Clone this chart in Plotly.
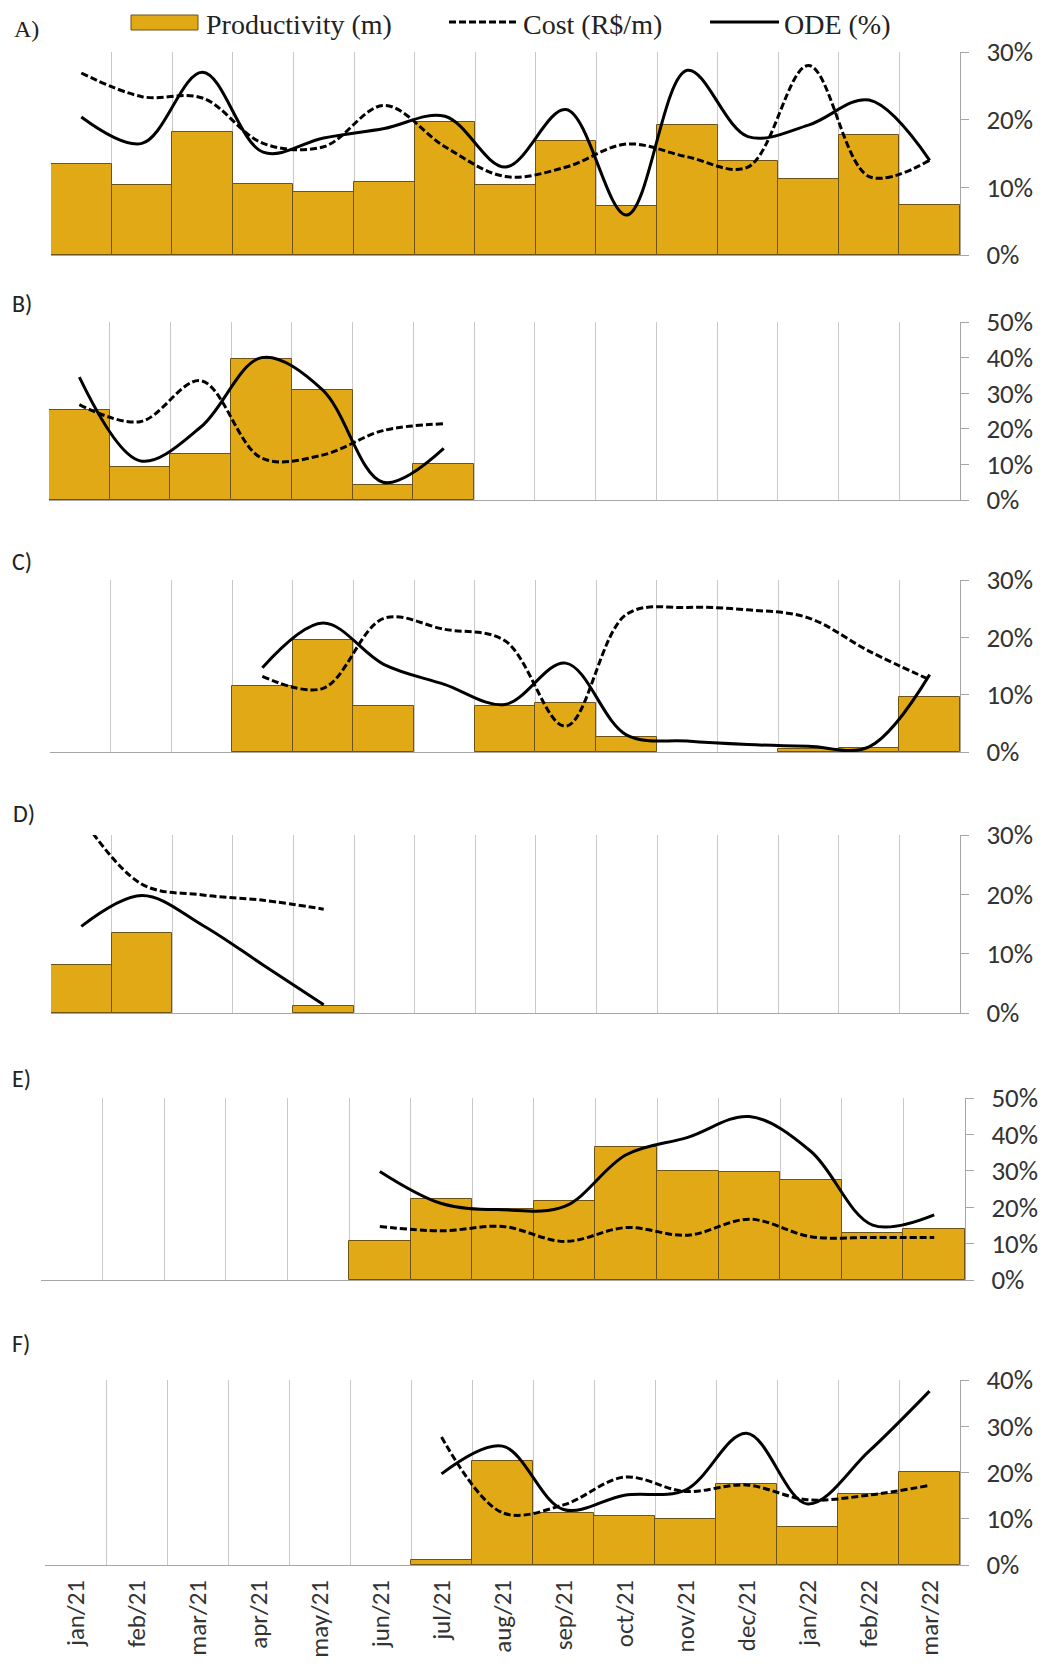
import plotly.graph_objects as go

# ---------------- data ----------------
months = ["jan/21", "feb/21", "mar/21", "apr/21", "may/21", "jun/21", "jul/21",
          "aug/21", "sep/21", "oct/21", "nov/21", "dec/21", "jan/22", "feb/22", "mar/22"]

N = None
prod_a = [13.4, 10.3, 18.2, 10.5, 9.3, 10.8, 19.7, 10.4, 16.9, 7.3, 19.2, 13.9, 11.3, 17.8, 7.4]
cost_a = [26.9, 23.4, 23.2, 16.5, 16.0, 22.1, 16.0, 11.6, 13.0, 16.4, 14.5, 13.0, 28.0, 11.6, 14.0]
ode_a = [20.4, 16.5, 27.0, 15.2, 17.3, 18.7, 20.5, 13.0, 21.5, 5.9, 27.3, 17.5, 19.2, 22.9, 14.0]

prod_b = [25.2, 9.2, 12.9, 39.6, 31.0, 4.2, 10.0, N, N, N, N, N, N, N, N]
cost_b = [26.8, 22.0, 33.5, 11.8, 12.6, 19.5, 21.4, N, N, N, N, N, N, N, N]
ode_b = [34.5, 11.0, 20.5, 40.0, 31.0, 5.0, 14.5, N, N, N, N, N, N, N, N]

prod_c = [N, N, N, 11.5, 19.6, 8.1, N, 8.0, 8.6, 2.6, N, N, 0.5, 0.7, 9.6]
cost_c = [N, N, N, 13.2, 11.1, 23.3, 21.4, 19.4, 4.5, 24.0, 25.2, 24.8, 23.4, 17.6, 12.6]
ode_c = [N, N, N, 14.7, 22.5, 15.3, 11.8, 8.3, 15.5, 3.0, 1.9, 1.3, 1.0, 0.9, 13.5]

prod_d = [8.1, 13.4, N, N, 1.1, N, N, N, N, N, N, N, N, N, N]
cost_d = [33.0, 21.7, 19.9, 19.0, 17.5, N, N, N, N, N, N, N, N, N, N]
ode_d = [14.6, 19.8, 14.8, 8.1, 1.4, N, N, N, N, N, N, N, N, N, N]

prod_e = [N, N, N, N, N, 10.6, 22.2, 19.4, 21.6, 36.5, 29.9, 29.6, 27.5, 12.8, 14.0]
cost_e = [N, N, N, N, N, 14.7, 13.5, 14.7, 10.6, 14.4, 12.3, 16.7, 11.9, 11.7, 11.7]
ode_e = [N, N, N, N, N, 29.8, 21.0, 19.3, 20.2, 34.4, 39.2, 44.9, 35.3, 15.1, 17.9]

prod_f = [N, N, N, N, N, N, 1.1, 22.5, 11.2, 10.5, 9.9, 17.5, 8.3, 15.4, 20.2]
cost_f = [N, N, N, N, N, N, 27.7, 11.3, 13.0, 19.0, 15.9, 17.3, 14.1, 15.1, 17.2]
ode_f = [N, N, N, N, N, N, 19.7, 25.7, 12.0, 15.1, 16.2, 28.5, 13.2, 24.5, 37.6]

panel_labels = ["A)", "B)", "C)", "D)", "E)", "F)"]
y_max = [30, 50, 30, 30, 50, 40]
legend_names = ["Productivity (m)", "Cost (R$/m)", "ODE (%)"]

# ---------------- layout geometry (page px) ----------------
OFF = 8                      # default body margin of the html page
W, H = 1038, 1658            # figure size
# left, right, top, bottom of each plot area (page px)
boxes = [(51, 960, 52, 255), (49, 960, 322, 500), (50, 960, 580, 752),
         (51, 960, 835, 1013), (41, 965, 1098, 1280), (45, 960, 1380, 1565)]
label_pos = [(12, 29), (10, 303), (10, 561), (11, 813), (10, 1078), (10, 1343)]


def px(x):
    return (x - OFF) / W


def py(y):
    return 1 - (y - OFF) / H


GOLD = "#E2A916"
EDGE = "#6E5218"
GRID = "#C9C9C9"
AXIS = "#A6A6A6"
YTICKFONT = dict(family="Carlito, Lato, sans-serif", size=27, color="#333333")
XTICKFONT = dict(family="Carlito, Lato, sans-serif", size=25, color="#333333")

data = [(prod_a, cost_a, ode_a), (prod_b, cost_b, ode_b), (prod_c, cost_c, ode_c),
        (prod_d, cost_d, ode_d), (prod_e, cost_e, ode_e), (prod_f, cost_f, ode_f)]

fig = go.Figure()
layout = {}
annotations = []
for i, (prod, cost, ode) in enumerate(data):
    n = "" if i == 0 else str(i + 1)
    xa, ya = "x" + n, "y" + n
    fig.add_trace(go.Bar(x=months, y=prod, xaxis=xa, yaxis=ya, width=1,
                         marker=dict(color=GOLD, line=dict(color=EDGE, width=1)),
                         name=legend_names[0], showlegend=False))
    fig.add_trace(go.Scatter(x=months, y=cost, xaxis=xa, yaxis=ya, mode="lines",
                             line=dict(color="black", width=3, dash="7px,3px",
                                       shape="spline", smoothing=1),
                             name=legend_names[1], showlegend=False))
    fig.add_trace(go.Scatter(x=months, y=ode, xaxis=xa, yaxis=ya, mode="lines",
                             line=dict(color="black", width=3,
                                       shape="spline", smoothing=1),
                             name=legend_names[2], showlegend=False))
    l, r, t, b = boxes[i]
    layout["xaxis" + n] = dict(
        domain=[px(l), px(r)], anchor=ya, type="category",
        categoryorder="array", categoryarray=months, range=[-0.5, len(months) - 0.5],
        tickson="boundaries", showgrid=True, gridcolor=GRID, gridwidth=1,
        showline=True, linecolor=AXIS, linewidth=1, ticks="",
        showticklabels=(i == 5), tickangle=-90, tickfont=XTICKFONT,
        ticklabelstandoff=4, zeroline=False, fixedrange=True, automargin=False)
    layout["yaxis" + n] = dict(
        domain=[py(b), py(t)], anchor=xa, side="right",
        range=[0, y_max[i]], dtick=10, ticksuffix="%", showgrid=False,
        zeroline=False, showline=True, linecolor=AXIS, linewidth=1,
        ticks="outside", ticklen=8, tickcolor=AXIS, tickfont=YTICKFONT,
        ticklabelstandoff=12, automargin=False)
    lx, ly = label_pos[i]
    annotations.append(dict(
        text=panel_labels[i], x=px(lx), y=py(ly), xref="paper", yref="paper",
        xanchor="left", yanchor="middle", showarrow=False,
        font=dict(family=("Liberation Serif" if i == 0 else "Carlito, Lato, sans-serif"),
                  size=24, color="#222222")))

# ---------------- legend (drawn) ----------------
shapes = []
leg_y = 22
shapes.append(dict(type="rect", xref="paper", yref="paper",
                   x0=px(131), x1=px(198), y0=py(30), y1=py(15),
                   fillcolor=GOLD, line=dict(color=EDGE, width=1)))
shapes.append(dict(type="line", xref="paper", yref="paper",
                   x0=px(449), x1=px(518), y0=py(leg_y), y1=py(leg_y),
                   line=dict(color="black", width=3, dash="7px,3px")))
shapes.append(dict(type="line", xref="paper", yref="paper",
                   x0=px(710), x1=px(779), y0=py(leg_y), y1=py(leg_y),
                   line=dict(color="black", width=3)))
for txt, x in zip(legend_names, [205, 522, 783]):
    annotations.append(dict(
        text=txt, x=px(x), y=1, xref="paper", yref="paper",
        xanchor="left", yanchor="top", showarrow=False, borderpad=0,
        font=dict(family="Liberation Serif", size=28, color="#222222")))

fig.update_layout(
    width=W, height=H, margin=dict(l=0, r=0, t=0, b=0),
    paper_bgcolor="white", plot_bgcolor="white",
    bargap=0, barmode="overlay", showlegend=False,
    annotations=annotations, shapes=shapes, **layout)

fig.write_html("out.html")
